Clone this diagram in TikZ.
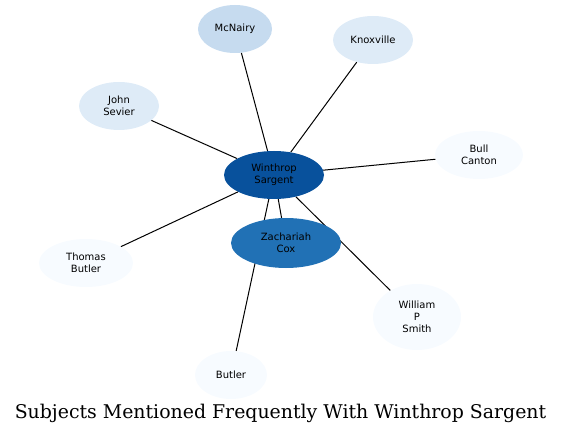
\documentclass[tikz,border=0pt]{standalone}
\usepackage{fontspec}
\setsansfont{DejaVu Sans}
\newfontfamily\titlefont{DejaVu Serif}
\usetikzlibrary{shapes.geometric,backgrounds}
\definecolor{blue1}{HTML}{F7FBFF}
\definecolor{blue2}{HTML}{DEEBF7}
\definecolor{blue3}{HTML}{C6DBEF}
\definecolor{blue6}{HTML}{2171B5}
\definecolor{blue7}{HTML}{08519C}
\begin{document}
\begin{tikzpicture}[x=1pt,y=-1pt,font=\sffamily\fontsize{10}{12}\selectfont,
    subject/.style={ellipse,fill=#1,align=center,inner sep=0pt},
    link/.style={black,line width=1pt}]
  \useasboundingbox (0,0) rectangle (561,435);
  \node[subject=blue7,minimum width=100pt,minimum height=48pt] (sargent) at (274,175) {Winthrop\\Sargent};
  \node[subject=blue3,minimum width=74pt,minimum height=48pt] (mcnairy) at (235,29) {McNairy};
  \node[subject=blue2,minimum width=80pt,minimum height=48pt] (knoxville) at (373,40) {Knoxville};
  \node[subject=blue2,minimum width=80pt,minimum height=48pt] (sevier) at (119,106) {John\\Sevier};
  \node[subject=blue1,minimum width=88pt,minimum height=48pt] (canton) at (479,155) {Bull\\Canton};
  \node[subject=blue6,minimum width=110pt,minimum height=50pt] (cox) at (286,243) {Zachariah\\Cox};
  \node[subject=blue1,minimum width=94pt,minimum height=48pt] (tbutler) at (86,263) {Thomas\\Butler};
  \node[subject=blue1,minimum width=88pt,minimum height=66pt] (smith) at (417,317) {William\\P\\Smith};
  \node[subject=blue1,minimum width=72pt,minimum height=48pt] (butler) at (231,375) {Butler};
  \begin{pgfonlayer}{background}
    \foreach \other in {mcnairy,knoxville,sevier,canton,cox,tbutler,smith,butler}
      \draw[link] (sargent) -- (\other);
  \end{pgfonlayer}
  \node[font=\titlefont\fontsize{18.9}{22}\selectfont] (title) at (280.5,413)
    {Subjects Mentioned Frequently With Winthrop Sargent};
\end{tikzpicture}
\end{document}
